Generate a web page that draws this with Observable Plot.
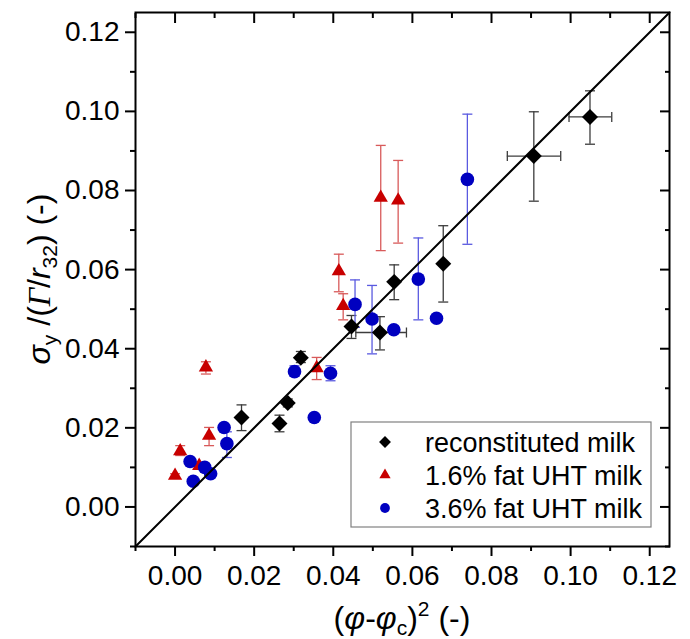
<!DOCTYPE html>
<html><head><meta charset="utf-8">
<script src="https://cdn.jsdelivr.net/npm/d3@7"></script>
<script src="https://cdn.jsdelivr.net/npm/@observablehq/plot@0.6"></script>
<style>
html,body{margin:0;padding:0;background:#fff;}
#chart{position:relative;width:690px;height:639px;}
</style></head><body><div id="chart"></div>
<script>
// ---- data ----
const xDomain = [-0.01, 0.125];
const yDomain = [-0.01, 0.125];
const majorTicks = [0, 0.02, 0.04, 0.06, 0.08, 0.10, 0.12];
const minorTicks = [-0.01, 0.01, 0.03, 0.05, 0.07, 0.09, 0.11];
const seriesNames = ["reconstituted milk", "1.6% fat UHT milk", "3.6% fat UHT milk"];

const recX   = [0.0168,0.0264,0.0285,0.0318,0.0446,0.0518,0.0554,0.0678,0.0907,0.1049];
const recY   = [0.0226,0.0211,0.0263,0.0377,0.0456,0.0441,0.0569,0.0615,0.0887,0.0986];
const recYlo = [0.0193,0.0190,0.0253,0.0365,0.0426,0.0397,0.0524,0.0518,0.0773,0.0917];
const recYhi = [0.0258,0.0232,0.0273,0.0393,0.0484,0.0481,0.0612,0.0711,0.0999,0.1052];
const recXlo = [null,null,null,null,null,0.0457,null,null,0.0840,0.0996];
const recXhi = [null,null,null,null,null,0.0585,null,null,0.0975,0.1104];

const f16X   = [0.0000,0.0013,0.0061,0.0078,0.0086,0.0358,0.0414,0.0425,0.0520,0.0564];
const f16Y   = [0.0079,0.0141,0.0104,0.0353,0.0180,0.0351,0.0596,0.0508,0.0782,0.0775];
const f16Ylo = [0.0074,0.0130,0.0095,0.0336,0.0155,0.0322,0.0544,0.0473,0.0648,0.0667];
const f16Yhi = [0.0084,0.0155,0.0113,0.0367,0.0201,0.0378,0.0639,0.0539,0.0914,0.0876];

const f36X   = [0.0038,0.0046,0.0075,0.0090,0.0124,0.0131,0.0302,0.0352,0.0393,0.0455,0.0498,0.0553,0.0615,0.0661,0.0739];
const f36Y   = [0.0115,0.0065,0.0100,0.0084,0.0201,0.0160,0.0342,0.0226,0.0338,0.0512,0.0475,0.0448,0.0576,0.0477,0.0828];
const f36Ylo = [null,null,null,null,null,0.0125,0.0330,null,0.0319,0.0454,0.0387,null,0.0473,null,0.0664];
const f36Yhi = [null,null,null,null,null,0.0190,0.0357,null,0.0357,0.0574,0.0560,null,0.0680,null,0.0993];

// ---- build tables ----
function rows(xs, ys, ylo, yhi, xlo, xhi) {
  return xs.map((x, i) => ({x, y: ys[i], ylo: ylo ? ylo[i] : null, yhi: yhi ? yhi[i] : null,
    xlo: xlo ? xlo[i] : null, xhi: xhi ? xhi[i] : null}));
}
const rec = rows(recX, recY, recYlo, recYhi, recXlo, recXhi);
const f16 = rows(f16X, f16Y, f16Ylo, f16Yhi);
const f36 = rows(f36X, f36Y, f36Ylo, f36Yhi);

const capH = {draw(ctx, size) { const w = Math.sqrt(size / Math.PI); ctx.moveTo(-w, 0); ctx.lineTo(w, 0); }};
const capV = {draw(ctx, size) { const w = Math.sqrt(size / Math.PI); ctx.moveTo(0, -w); ctx.lineTo(0, w); }};

function errorMarks(data, color) {
  const yb = data.filter(d => d.ylo != null);
  const xb = data.filter(d => d.xlo != null);
  return [
    Plot.ruleX(yb, {x: "x", y1: "ylo", y2: "yhi", stroke: color, strokeWidth: 1.3}),
    Plot.dot(yb, {x: "x", y: "ylo", symbol: capH, r: 5, stroke: color, strokeWidth: 1.3, fill: "none"}),
    Plot.dot(yb, {x: "x", y: "yhi", symbol: capH, r: 5, stroke: color, strokeWidth: 1.3, fill: "none"}),
    Plot.ruleY(xb, {y: "y", x1: "xlo", x2: "xhi", stroke: color, strokeWidth: 1.3}),
    Plot.dot(xb, {x: "xlo", y: "y", symbol: capV, r: 5, stroke: color, strokeWidth: 1.3, fill: "none"}),
    Plot.dot(xb, {x: "xhi", y: "y", symbol: capV, r: 5, stroke: color, strokeWidth: 1.3, fill: "none"})
  ];
}

const colRec = "#000000", colF16 = "#c80000", colF36 = "#0000c0";
const fmt = d3.format(".2f");

const plot = Plot.plot({
  width: 690, height: 639,
  marginLeft: 135, marginRight: 21, marginTop: 12, marginBottom: 93,
  style: {fontFamily: "Liberation Sans, Arial, sans-serif", fontSize: "28px", color: "#000", background: "#fff"},
  x: {domain: xDomain},
  y: {domain: yDomain},
  marks: [
    Plot.axisX({anchor: "bottom", ticks: majorTicks, tickSize: 10, tickPadding: 9, strokeWidth: 2, tickFormat: fmt, fontSize: 28, label: null}),
    Plot.axisX({anchor: "bottom", ticks: minorTicks, tickSize: 5, strokeWidth: 2, tickFormat: () => "", label: null}),
    Plot.axisX({anchor: "top", ticks: majorTicks, tickSize: 10, dy: 10, strokeWidth: 2, tickFormat: () => "", label: null}),
    Plot.axisX({anchor: "top", ticks: minorTicks, tickSize: 5, dy: 5, strokeWidth: 2, tickFormat: () => "", label: null}),
    Plot.axisY({anchor: "left", ticks: majorTicks, tickSize: 10, tickPadding: 6, strokeWidth: 2, tickFormat: fmt, fontSize: 28, label: null}),
    Plot.axisY({anchor: "left", ticks: minorTicks, tickSize: 5, strokeWidth: 2, tickFormat: () => "", label: null}),
    Plot.axisY({anchor: "right", ticks: majorTicks, tickSize: 10, dx: -10, strokeWidth: 2, tickFormat: () => "", label: null}),
    Plot.axisY({anchor: "right", ticks: minorTicks, tickSize: 5, dx: -5, strokeWidth: 2, tickFormat: () => "", label: null}),
    ...errorMarks(rec, "#3c3c3c"),
    ...errorMarks(f16, "#d85a5a"),
    ...errorMarks(f36, "#5a5ae0"),
    Plot.dot(rec, {x: "x", y: "y", symbol: "diamond2", r: 7.2, fill: colRec}),
    Plot.dot(f16, {x: "x", y: "y", symbol: "triangle", r: 5.3, fill: colF16}),
    Plot.dot(f36, {x: "x", y: "y", symbol: "circle", r: 6.8, fill: colF36}),
    Plot.line(xDomain.map(v => ({x: v, y: v})), {x: "x", y: "y", stroke: "#000", strokeWidth: 2}),
    Plot.frame({stroke: "#000", strokeWidth: 2})
  ]
});
document.getElementById("chart").appendChild(plot);

// ---- titles and legend ----
const svg = d3.select(plot);
const ff = "Liberation Sans, Arial, sans-serif";
const fs = "Liberation Serif, Times New Roman, serif";
const xt = svg.append("text").attr("x", 402).attr("y", 629).attr("text-anchor", "middle")
  .attr("font-family", ff).attr("font-size", 32).attr("fill", "#000");
xt.append("tspan").text("(");
xt.append("tspan").attr("font-style", "italic").text("φ");
xt.append("tspan").text("-");
xt.append("tspan").attr("font-style", "italic").text("φ");
xt.append("tspan").attr("font-size", 21).attr("dy", 6).text("c");
xt.append("tspan").attr("dy", -6).text(")");
xt.append("tspan").attr("font-size", 21).attr("dy", -13).text("2");
xt.append("tspan").attr("dy", 13).text(" (-)");

const yt = svg.append("text").attr("transform", "translate(50,279) rotate(-90)").attr("text-anchor", "middle")
  .attr("font-family", ff).attr("font-size", 32).attr("fill", "#000");
yt.append("tspan").attr("font-style", "italic").text("σ");
yt.append("tspan").attr("font-size", 21).attr("dy", 7).text("y");
yt.append("tspan").attr("dy", -7).text(" /(");
yt.append("tspan").attr("font-style", "italic").attr("font-family", fs).text("Γ");
yt.append("tspan").text("/");
yt.append("tspan").attr("font-style", "italic").text("r");
yt.append("tspan").attr("font-size", 21).attr("dy", 7).text("32");
yt.append("tspan").attr("dy", -7).text(") (-)");

const lg = svg.append("g");
lg.append("rect").attr("x", 351).attr("y", 422).attr("width", 300).attr("height", 105)
  .attr("fill", "#fff").attr("stroke", "#808080").attr("stroke-width", 1.2);
const legendSymbols = [d3.symbolDiamond2, d3.symbolTriangle, d3.symbolCircle];
const legendSizes = [90, 55, 75];
const legendColors = [colRec, colF16, colF36];
seriesNames.forEach((name, i) => {
  const cy = 442 + i * 33;
  lg.append("path").attr("d", d3.symbol(legendSymbols[i], legendSizes[i])())
    .attr("transform", `translate(385,${cy})`).attr("fill", legendColors[i]);
  lg.append("text").attr("x", 425).attr("y", cy + 10).attr("text-anchor", "start")
    .attr("font-family", ff).attr("font-size", 27).attr("fill", "#000").text(name);
});
</script></body></html>
